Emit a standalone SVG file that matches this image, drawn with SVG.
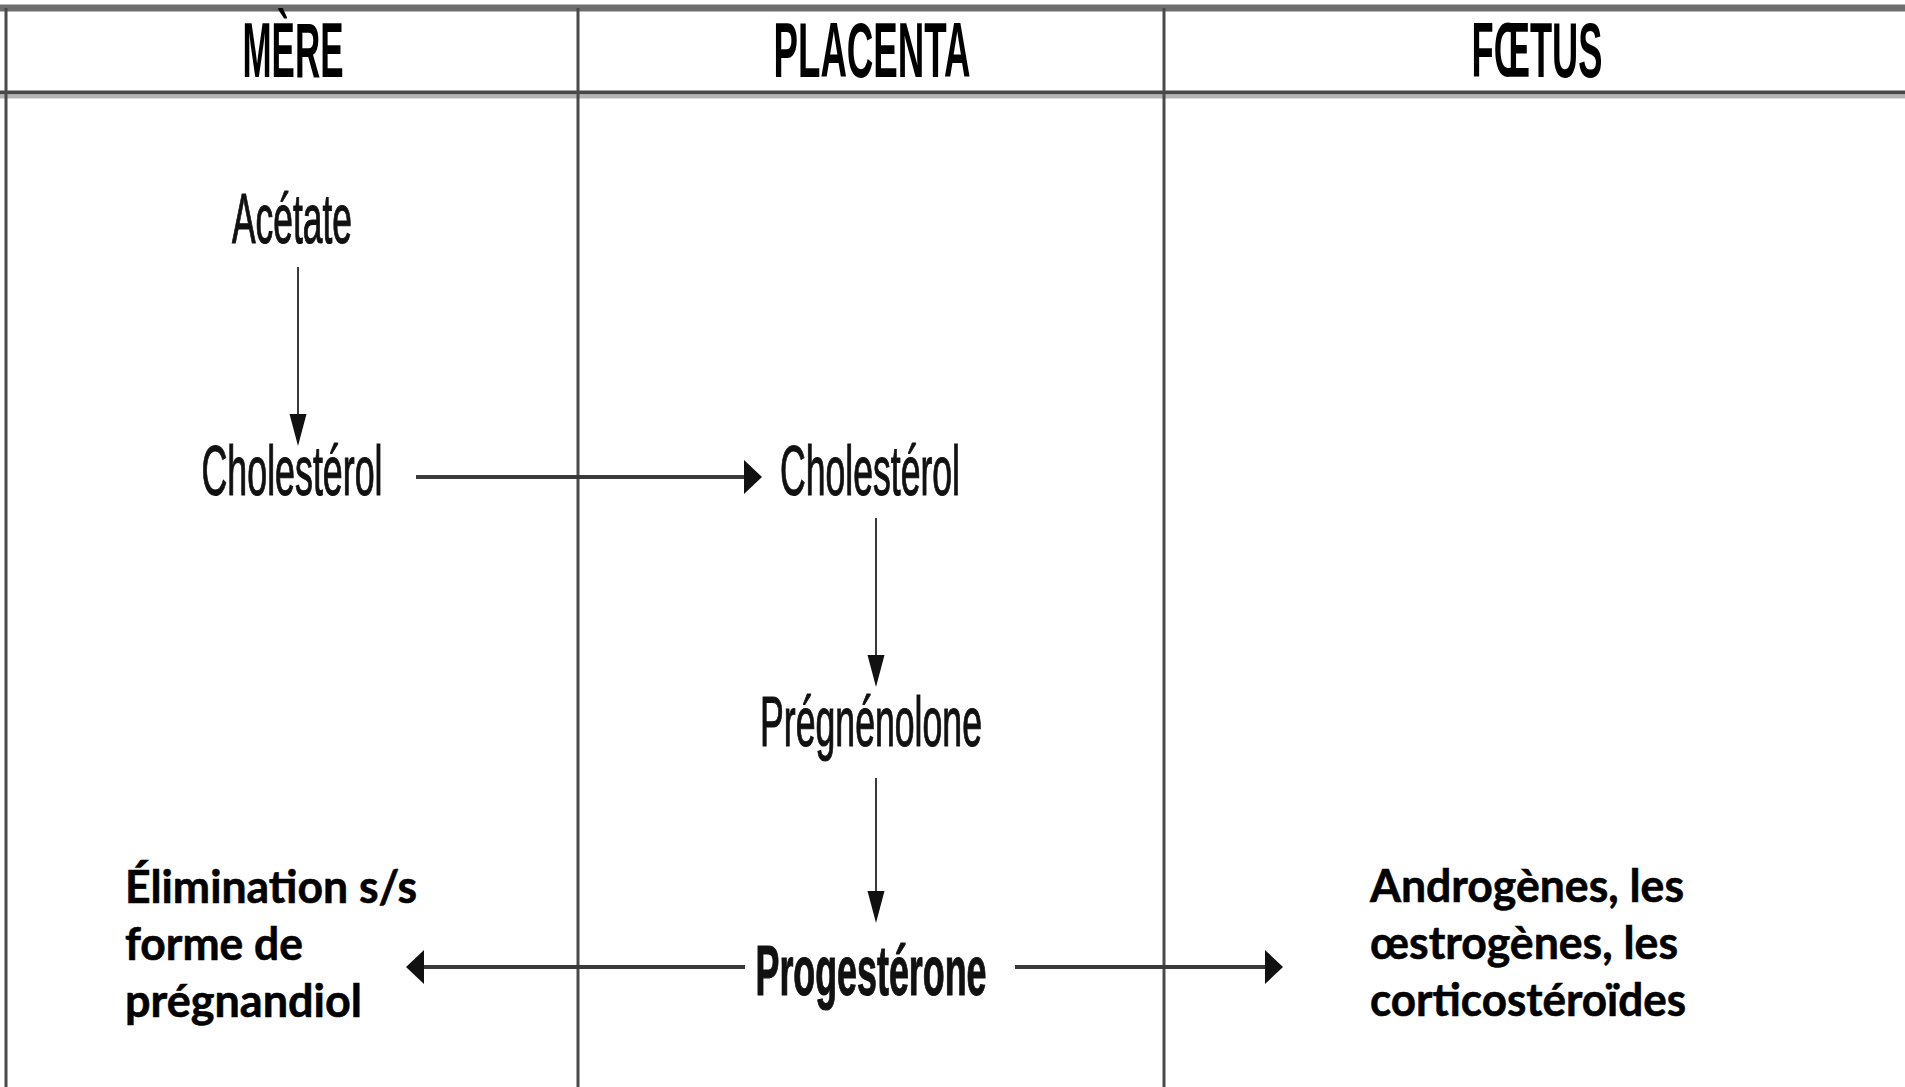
<svg xmlns="http://www.w3.org/2000/svg" width="1905" height="1087" viewBox="0 0 1905 1087">
<style>
.hdr{font-family:"Liberation Sans",Arial,sans-serif;font-weight:bold;font-size:78px;fill:#000;text-anchor:middle}
.mol{font-family:"Liberation Sans",Arial,sans-serif;font-size:71px;fill:#111;stroke:#111;stroke-width:1.2;text-anchor:middle}
.lbl{font-family:Lato,"Open Sans",sans-serif;font-weight:bold;font-size:46px;fill:#000;stroke:#000;stroke-width:0.6}
.grid{stroke:#4a4a4a;stroke-width:3;fill:none}
.conn{stroke:#3a3a3a;fill:none}
</style>
<defs>
<marker id="arrH" markerUnits="userSpaceOnUse" markerWidth="20" markerHeight="36" refX="0" refY="17" orient="auto"><path d="M0,0 L18,17 L0,34 z" fill="#111"/></marker>
<marker id="arrV" markerUnits="userSpaceOnUse" markerWidth="34" markerHeight="20" refX="0" refY="8.5" orient="auto"><path d="M0,0 L32,8.5 L0,17 z" fill="#111"/></marker>
</defs>
<rect width="1905" height="1087" fill="#fff"/>
<g id="table">
<line x1="0" y1="8" x2="1905" y2="8" stroke="#6e6e6e" stroke-width="7"/>
<line x1="0" y1="92.5" x2="1905" y2="92.5" stroke="#474747" stroke-width="4"/>
<line x1="0" y1="96.5" x2="1905" y2="96.5" stroke="#b4b4b4" stroke-width="4"/>
<line class="grid" x1="6" y1="8" x2="6" y2="1087"/>
<line class="grid" x1="578" y1="8" x2="578" y2="1087"/>
<line class="grid" x1="1164" y1="8" x2="1164" y2="1087"/>
</g>
<g id="header-mere"><text class="hdr" x="293" y="77" textLength="101" lengthAdjust="spacingAndGlyphs">MÈRE</text></g>
<g id="header-placenta"><text class="hdr" x="872" y="77" textLength="197" lengthAdjust="spacingAndGlyphs">PLACENTA</text></g>
<g id="header-foetus"><text class="hdr" x="1537" y="77" textLength="131" lengthAdjust="spacingAndGlyphs">FŒTUS</text></g>
<g id="acetate"><text class="mol" x="292" y="243" textLength="120" lengthAdjust="spacingAndGlyphs">Acétate</text></g>
<g id="cholesterol-mere"><text class="mol" x="292" y="495" textLength="181" lengthAdjust="spacingAndGlyphs">Cholestérol</text></g>
<g id="cholesterol-placenta"><text class="mol" x="870" y="495" textLength="180" lengthAdjust="spacingAndGlyphs">Cholestérol</text></g>
<g id="pregnenolone"><text class="mol" x="871" y="746" textLength="222" lengthAdjust="spacingAndGlyphs">Prégnénolone</text></g>
<g id="progesterone"><text class="mol" x="871" y="995" font-weight="bold" font-size="74" textLength="231" lengthAdjust="spacingAndGlyphs">Progestérone</text></g>
<g id="elimination">
<text class="lbl" x="125" y="903" textLength="292" lengthAdjust="spacingAndGlyphs">Élimination s/s</text>
<text class="lbl" x="125" y="960" textLength="178" lengthAdjust="spacingAndGlyphs">forme de</text>
<text class="lbl" x="125" y="1017" textLength="237" lengthAdjust="spacingAndGlyphs">prégnandiol</text>
</g>
<g id="derives">
<text class="lbl" x="1370" y="902" textLength="314" lengthAdjust="spacingAndGlyphs">Androgènes, les</text>
<text class="lbl" x="1370" y="959" textLength="308" lengthAdjust="spacingAndGlyphs">œstrogènes, les</text>
<text class="lbl" x="1370" y="1016" textLength="316" lengthAdjust="spacingAndGlyphs">corticostéroïdes</text>
</g>
<g id="connectors">
<line class="conn" stroke-width="2" x1="298" y1="267" x2="298" y2="414" marker-end="url(#arrV)"/>
<line class="conn" stroke-width="2" x1="876" y1="518" x2="876" y2="655" marker-end="url(#arrV)"/>
<line class="conn" stroke-width="2" x1="876" y1="778" x2="876" y2="891" marker-end="url(#arrV)"/>
<line class="conn" stroke-width="4" x1="416" y1="477" x2="744" y2="477" marker-end="url(#arrH)"/>
<line class="conn" stroke-width="4" x1="745" y1="967" x2="424" y2="967" marker-end="url(#arrH)"/>
<line class="conn" stroke-width="4" x1="1015" y1="967" x2="1265" y2="967" marker-end="url(#arrH)"/>
</g>
</svg>
